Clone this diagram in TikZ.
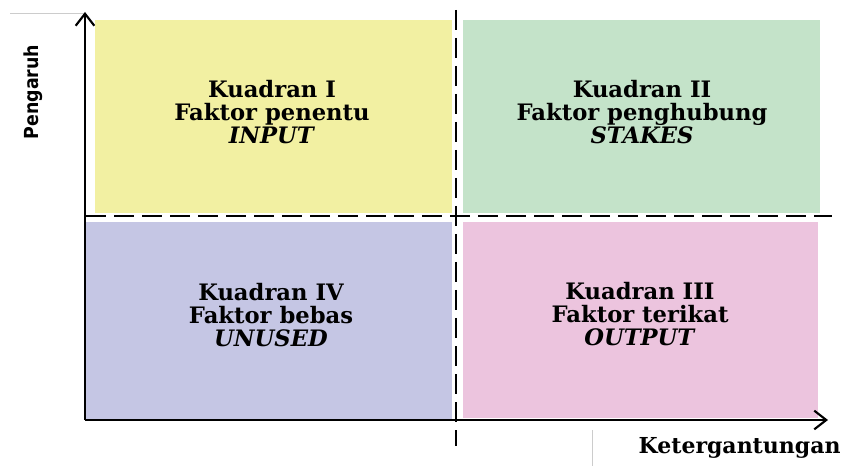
\documentclass[tikz,border=0pt]{standalone}
\usepackage{fontspec}
\setmainfont{DejaVu Serif}
\newfontfamily\axisfont{DejaVu Sans Condensed}
\usetikzlibrary{arrows.meta}

\definecolor{kuning}{RGB}{242,240,162}
\definecolor{hijau}{RGB}{196,227,201}
\definecolor{ungu}{RGB}{197,198,228}
\definecolor{merahmuda}{RGB}{236,196,222}

\begin{document}
\begin{tikzpicture}[x=0.75pt,y=-0.75pt,
  kuadran/.style={align=center,font=\bfseries\fontsize{17}{17.5}\selectfont},
  sumbu/.style={line width=1.8pt,-{Straight Barb[length=9pt,width=14pt,line width=1.6pt]}},
  batas/.style={line width=1.9pt,dash pattern=on 15pt off 6pt}]
  \useasboundingbox (0,0) rectangle (845,466);

  % bidang kuadran
  \fill [kuning] (95,20) rectangle (452,213);
  \fill [hijau] (463,20) rectangle (820,213);
  \fill [ungu] (86,222) rectangle (452,420);
  \fill [merahmuda] (463,222) rectangle (818,418);

  \node [kuadran] (k1) at (272,112) {Kuadran I\\Faktor penentu\\\textit{INPUT}};
  \node [kuadran] (k2) at (642,112) {Kuadran II\\Faktor penghubung\\\textit{STAKES}};
  \node [kuadran] (k4) at (271,315) {Kuadran IV\\Faktor bebas\\\textit{UNUSED}};
  \node [kuadran] (k3) at (640,314) {Kuadran III\\Faktor terikat\\\textit{OUTPUT}};

  % garis bantu tipis
  \draw [gray!40,line width=0.5pt] (10,13) -- (85,13);
  \draw [gray!40,line width=0.5pt] (592,430) -- (592,466);

  % sumbu
  \coordinate (O) at (85,420);
  \coordinate (ytop) at (85,12);
  \coordinate (xend) at (828,420);
  \draw [sumbu] (O) -- (ytop);
  \draw [sumbu] (O) -- (xend);
  \node [rotate=90,font=\axisfont\bfseries\fontsize{14.5}{16}\selectfont] (py) at (33,92) {Pengaruh};
  \node [font=\bfseries\fontsize{16.5}{18}\selectfont,anchor=west] (px) at (634,448) {Ketergantungan};

  % garis batas kuadran
  \coordinate (vt) at (456,10);
  \coordinate (vb) at (456,446);
  \coordinate (hl) at (86,216);
  \coordinate (hr) at (832,216);
  \draw [batas] (vt) -- (vb);
  \draw [batas] (hl) -- (hr);
\end{tikzpicture}
\end{document}
